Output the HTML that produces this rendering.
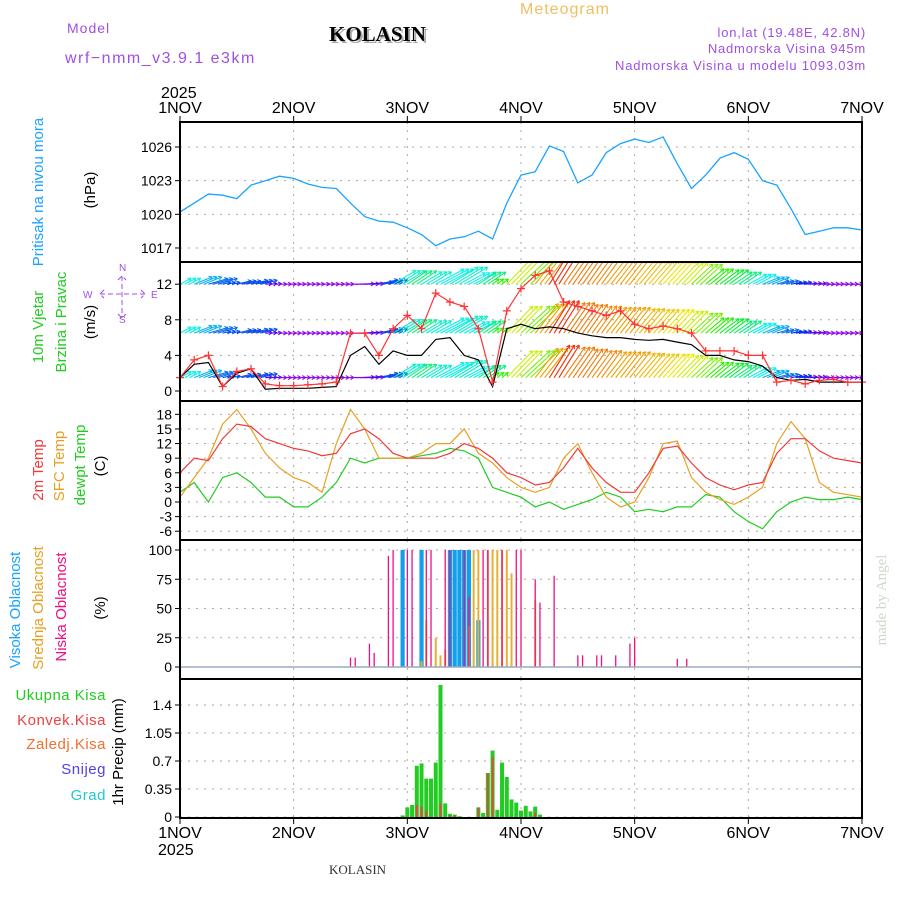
<!DOCTYPE html>
<html><head><meta charset="utf-8"><style>
body{margin:0;background:#fff;}
svg{display:block;font-family:"Liberation Sans",sans-serif;}
</style></head><body>
<svg id="c" width="900" height="900" viewBox="0 0 900 900"></svg>
<script>
// ---- DATA (3-hourly, 49 points, hour 0..144) ----
const pressure=[1020.2,1021.0,1021.8,1021.7,1021.4,1022.6,1023.0,1023.4,1023.2,1022.7,1022.4,1022.3,1021.0,1019.8,1019.4,1019.3,1018.8,1018.2,1017.2,1017.8,1018.0,1018.5,1017.8,1021.0,1023.5,1023.8,1026.1,1025.6,1022.8,1023.5,1025.5,1026.3,1026.7,1026.4,1026.9,1024.5,1022.3,1023.5,1025.0,1025.5,1024.9,1023.0,1022.6,1020.5,1018.2,1018.5,1018.8,1018.8,1018.6];
const windSpeed=[1.5,3,3.2,0.5,2,2.5,0.2,0.3,0.3,0.3,0.4,0.5,4,5,3,4.5,4,4,5.8,6,4,3.5,0.5,7,7.5,7,7.2,7,6.5,6.2,6,6,5.8,5.7,5.8,5.5,5.2,4,4,3.5,3.3,2.8,1.5,1.2,1.3,1,1,1,1];
const windGust=[1.5,3.5,4,0.5,2.2,2.5,0.8,0.6,0.6,0.7,0.8,1,6.5,6.5,4,7,8.5,7,11,10,9.5,7,1,9,11.5,13,13.5,10,9.5,9,8.5,9,7.5,7,7.3,7,6.5,4.5,4.5,4.5,4,4,1,1.2,0.8,1.2,1.3,1,1];
const windDir=[225,235,245,250,250,250,265,270,270,270,270,270,270,265,250,220,215,220,225,220,225,215,205,195,200,185,175,180,180,182,185,185,188,190,192,195,200,205,210,215,225,235,245,255,265,270,270,270,270];
const temp2m=[6,9,8.5,13,16,15.5,13,12,11,10.5,9.5,10,14,15,13,10,9,9,9,10,12,11,9,6,5,3.5,4,7,11,7,4,2,2,6,11,11.5,8,5,3.5,2.5,3.5,4,10,13,13,10.5,9,8.5,8];
const tempSfc=[1,5,9,16,19,15,10,7,5,4,2,12,19,15,9,9,9,10,12,12,15,10,8,5,3,2,3,9,12,6,1,-1,0,5,12,12.5,5,2,0.5,-0.5,1,3,12,16.5,13,4,2,1.5,1];
const tempDew=[2,4,0,5,6,4,1,1,-1,-1,1,4,9,8,9,9,9,9.5,10,11,10.5,9,3,2,1,-1,0,-1.5,-0.5,0.5,2,1,-2,-1.5,-2,-1,-1,1.5,1,-2,-4,-5.5,-2,0,1,0.5,0.5,1,0.5];
// clouds (hour, %)
const lowHours=[36,37,40,41,44,45,48,49,52,53,56,57,60,61,64,65,68,71,72,75,76,79,84,85,88,89,92,95,96,105,107];
const lowVals=[8,8,20,12,95,100,100,100,100,100,100,100,100,60,100,100,100,100,100,75,55,78,10,10,10,10,10,20,25,7,7];
const highHours=[47,51,57,58,59,60,61,63];
const highVals=[100,100,100,100,100,100,100,40];
const midHours=[51,52,54,55,56,61,62,63,65,66,67,68,69,70,75];
const midVals=[5,40,25,10,15,35,100,100,100,100,100,100,100,80,57];
// precip (hour, mm)
const precHours=[47,48,49,50,51,52,53,54,55,56,57,58,59,63,64,65,66,67,68,69,70,71,72,73,74,75,76];
const precTotal=[0.02,0.12,0.15,0.64,0.67,0.48,0.48,0.68,1.65,0.17,0.04,0.03,0.01,0.12,0.05,0.55,0.83,0.09,0.68,0.5,0.22,0.18,0.08,0.14,0.07,0.13,0.03];
const convHours=[50,51,52,55,57,58,63,65,66,75];
const convVals=[0.15,0.13,0.08,0.17,0.02,0.02,0.12,0.55,0.75,0.05];
const dayLabels=["1NOV","2NOV","3NOV","4NOV","5NOV","6NOV","7NOV"];
const pTicks=[1017,1020,1023,1026];
const wTicks=[0,4,8,12];
const tTicks=[-6,-3,0,3,6,9,12,15,18];
const cTicks=[0,25,50,75,100];
const rTicks=[0,0.35,0.7,1.05,1.4];

const NS="http://www.w3.org/2000/svg";
const svg=document.getElementById('c');
function el(t,a,p){const e=document.createElementNS(NS,t);for(const k in a)e.setAttribute(k,a[k]);(p||svg).appendChild(e);return e;}
function txt(s,a,p){const e=el('text',a,p);e.textContent=s;return e;}
const X0=180,X1=862;
const xh=h=>X0+(X1-X0)*h/144;
const panels=[
 {top:122,bot:262,y:v=>147+(1026-v)*11.22,ticks:pTicks,name:'pressure'},
 {top:262,bot:401,y:v=>391-v*8.9,ticks:wTicks,name:'wind'},
 {top:401,bot:540,y:v=>502-v*4.87,ticks:tTicks,name:'temp'},
 {top:540,bot:679,y:v=>667-v*1.17,ticks:cTicks,name:'cloud'},
 {top:679,bot:818,y:v=>817-v*80,ticks:rTicks,name:'precip'}];
panels.forEach(p=>{
 const g=el('g',{});
 p.ticks.forEach(t=>{const y=p.y(t);
  el('line',{x1:X0,x2:X1,y1:y,y2:y,stroke:'#aaa','stroke-dasharray':'2,6'},g);
  el('line',{x1:X0-5,x2:X0,y1:y,y2:y,stroke:'#000'},g);
  const lb=txt(String(t),{x:X0-8,y:y+5,'text-anchor':'end','font-size':14,fill:'#000'},g);
  
 });
 for(let d=1;d<6;d++){const x=xh(d*24);el('line',{x1:x,x2:x,y1:p.top,y2:p.bot,stroke:'#aaa','stroke-dasharray':'2,6'},g);}
});
function line(data,p,color,name,w){
 const d=data.map((v,i)=>(i?'L':'M')+xh(i*3).toFixed(1)+','+p.y(v).toFixed(1)).join('');
 const e=el('path',{d:d,fill:'none',stroke:color,'stroke-width':w||1.2});
 return e;
}
line(pressure,panels[0],'#1aa3ff','pressure-line',1.3);
const clip=el('clipPath',{id:'wc'});el('rect',{x:X0,y:262,width:X1-X0,height:139},clip);
const wg=el('g',{'clip-path':'url(#wc)'});
function hue(d){const s=[[165,330],[180,30],[190,50],[205,110],[220,170],[240,205],[255,230],[270,275]];
 if(d<=s[0][0])return s[0][1];for(let i=1;i<s.length;i++)if(d<=s[i][0]){const a=s[i-1],b=s[i];let h0=a[1],h1=b[1];if(h0>h1)h1+=360;return (h0+(h1-h0)*(d-a[0])/(b[0]-a[0]))%360;}return 275;}
[1.5,6.5,12].forEach(lv=>{const by=panels[1].y(lv);
 windDir.forEach((d,i)=>{const sp=windSpeed[i];const L=6+sp*4.5;const a=(35+(d-180)*0.6)*Math.PI/180;
  for(let k=0;k<3;k++){const x=xh(i*3+k);const dx=L*Math.sin(a),dy=-L*Math.cos(a);
   const c='hsl('+hue(d)+',95%,48%)';
   el('line',{x1:x,y1:by,x2:x+dx,y2:by+dy,stroke:c,'stroke-width':1.1},wg);
   const ang=Math.atan2(dy,dx);
   [2.6,-2.6].forEach(o=>el('line',{x1:x+dx,y1:by+dy,x2:x+dx-4*Math.cos(ang+o/5),y2:by+dy-4*Math.sin(ang+o/5),stroke:c,'stroke-width':1},wg));}
 });
});
line(windSpeed,panels[1],'#000','wind-speed-line',1.2);
line(windGust,panels[1],'#f33','wind-gust-line',1.2);
windGust.forEach((v,i)=>{const x=xh(i*3),y=panels[1].y(v);const m=el('path',{d:`M${x-4},${y}h8M${x},${y-4}v8`,stroke:'#f33','stroke-width':1.2});
 });
line(tempDew,panels[2],'#22cc22','dewpoint-line');
line(tempSfc,panels[2],'#e8a020','sfc-temp-line');
line(temp2m,panels[2],'#f03a3a','temp-2m-line');
function bars(hours,vals,p,color,name,w){hours.forEach((h,i)=>{const x=xh(h),y=p.y(vals[i]);
 const r=el('rect',{x:x-w/2,y:y,width:w,height:p.y(0)-y,fill:color});});}
bars(highHours,highVals,panels[3],'#10a0ee','high-cloud-bar',4.2);
bars(midHours,midVals,panels[3],'#e8b030','mid-cloud-bar',2);
bars(lowHours,lowVals,panels[3],'#ee1080','low-cloud-bar',1.3);
el('line',{x1:X0,x2:X1,y1:667,y2:667,stroke:'#9ab','stroke-width':1.5});
bars(precHours,precTotal,panels[4],'#22cc22','precip-total-bar',4);
bars(convHours,convVals,panels[4],'#f04040','precip-convective-bar',1.8);
panels.forEach(p=>{const r=el('rect',{x:X0,y:p.top,width:X1-X0,height:p.bot-p.top,fill:'none',stroke:'#000','stroke-width':2});
 });
dayLabels.forEach((s,i)=>{const x=xh(i*24);
 el('line',{x1:x,x2:x,y1:116,y2:122,stroke:'#000'});el('line',{x1:x,x2:x,y1:818,y2:824,stroke:'#000'});
 let t=txt(s,{x:x,y:113,'text-anchor':'middle','font-size':16,fill:'#000'});
 t=txt(s,{x:x,y:838,'text-anchor':'middle','font-size':16,fill:'#000'});});
function T(s,a,name){const t=txt(s,a);return t;}
T('2025',{x:161,y:98,'font-size':16},'year-top');
T('2025',{x:158,y:855,'font-size':16},'year-bottom');
T('Meteogram',{x:520,y:14,'font-size':16,fill:'#f0c060','letter-spacing':1},'meteogram-title');
T('Model',{x:67,y:33,'font-size':14,fill:'#a050e0','letter-spacing':1},'model-label');
T('wrf−nmm_v3.9.1 e3km',{x:65,y:63,'font-size':16,fill:'#a050e0','letter-spacing':1.5},'model-name');
T('KOLASIN',{x:331,y:43,'font-size':21,'font-weight':'bold','font-family':'Liberation Serif',fill:'#aaa'},'title-shadow');
T('KOLASIN',{x:329,y:41,'font-size':21,'font-weight':'bold','font-family':'Liberation Serif',fill:'#000'},'station-title');
T('lon,lat (19.48E, 42.8N)',{x:866,y:37,'font-size':13,fill:'#a050e0','text-anchor':'end','letter-spacing':0.8},'lonlat');
T('Nadmorska Visina 945m',{x:866,y:53,'font-size':13,fill:'#a050e0','text-anchor':'end','letter-spacing':0.8},'elevation');
T('Nadmorska Visina u modelu 1093.03m',{x:866,y:70,'font-size':13,fill:'#a050e0','text-anchor':'end','letter-spacing':0.8},'model-elevation');
T('KOLASIN',{x:329,y:874,'font-size':13,'font-family':'Liberation Serif',fill:'#333'},'footer-station');
function R(s,x,y,c,name,fs){const t=T(s,{x:x,y:y,'font-size':fs||15,fill:c,'text-anchor':'middle',transform:`rotate(-90 ${x} ${y})`},name);return t;}
R('Pritisak na nivou mora',43,192,'#1aa3ff','pressure-axis-title');
R('(hPa)',95,190,'#000','pressure-unit');
R('10m Vjetar',43,327,'#22cc22','wind-axis-title');
R('Brzina i Pravac',66,322,'#22cc22','wind-axis-subtitle');
R('(m/s)',95,322,'#000','wind-unit');
R('2m Temp',43,470,'#f03a3a','temp2m-axis-title');
R('SFC Temp',64,466,'#e8a020','sfc-axis-title');
R('dewpt Temp',85,465,'#22cc22','dew-axis-title');
R('(C)',105,466,'#000','temp-unit');
R('Visoka Oblacnost',20,610,'#1aa3ff','high-cloud-title');
R('Srednja Oblacnost',43,608,'#e8a020','mid-cloud-title');
R('Niska Oblacnost',66,607,'#ee1080','low-cloud-title');
R('(%)',105,608,'#000','cloud-unit');
R('1hr Precip (mm)',123,752,'#000','precip-axis-title');
R('made by Angel',886,600,'#c8dcc8','credit',15).setAttribute('font-family','Liberation Serif');
[['Ukupna Kisa',700,'#22cc22'],['Konvek.Kisa',725,'#f04040'],['Zaledj.Kisa',749,'#f07030'],['Snijeg',774,'#5040f0'],['Grad',800,'#20c8d0']].forEach(a=>
 T(a[0],{x:106,y:a[1],'font-size':15,fill:a[2],'text-anchor':'end','letter-spacing':0.5},'precip-legend-entry'));
const cg=el('g',{fill:'#a050e0','font-size':10,stroke:'none'});
txt('N',{x:119,y:271},cg);txt('S',{x:119,y:323},cg);txt('W',{x:83,y:298},cg);txt('E',{x:151,y:298},cg);
el('path',{d:'M100,294h45M122,276v42M104,290l-4,4l4,4M141,290l4,4l-4,4M118,280l4,-4l4,4M118,314l4,4l4,-4',stroke:'#a050e0',fill:'none','stroke-dasharray':'5,3'},cg);
</script>
</body></html>
